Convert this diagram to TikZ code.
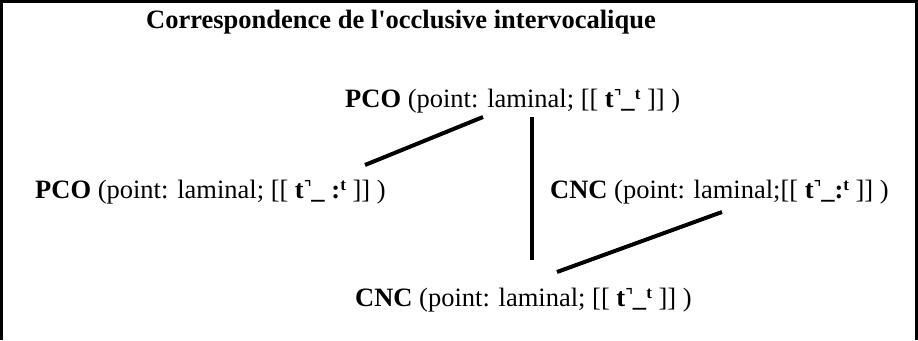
\documentclass[tikz,border=0pt]{standalone}
\usepackage{fontspec}
\setmainfont{Liberation Serif}[Ligatures=TeXOff]
\newfontfamily\ipafont{Noto Sans}
\usetikzlibrary{positioning}

% the unreleased stop, as printed
\newcommand{\tunrel}{\textbf{t}{\ipafont\bfseries\char"02FA}}
\newcommand{\supt}{\raisebox{0.6ex}{\fontsize{17}{17}\selectfont\bfseries t}}

\begin{document}
\begin{tikzpicture}[x=1pt, y=-1pt, font=\fontsize{26.5}{32}\selectfont]
    % Styles for the labels and the connecting strokes
    \tikzset{form/.style={inner sep=0pt, anchor=base west},
             link/.style={line width=4pt}}

    \useasboundingbox (0,0) rectangle (918,340);
    % Frame, open at the bottom
    \draw[line width=2.5pt] (1.5,340) -- (1.5,1.5) -- (916.5,1.5) -- (916.5,340);

    % Title
    \node[form] (title) at (146,28) {\textbf{Correspondence de l'occlusive intervocalique}};

    % The four correspondences
    \node[form] (pcoTop) at (345,107) {\textbf{PCO} (point: laminal; [[ \tunrel\textbf{\_}\supt\ ]] )};
    \node[form] (pcoLeft) at (35,198) {\textbf{PCO} (point: laminal; [[ \tunrel\textbf{\_} \textbf{:}\supt\ ]] )};
    \node[form] (cncRight) at (550,198) {\textbf{CNC} (point: laminal;[[ \tunrel\textbf{\_:}\supt\ ]] )};
    \node[form] (cncBottom) at (355,306) {\textbf{CNC} (point: laminal; [[ \tunrel\textbf{\_}\supt\ ]] )};

    % Links between them
    \draw[link] ([shift={(330,-33)}]pcoLeft.base west) -- ([shift={(138,10)}]pcoTop.base west);
    \draw[link] ([shift={(187,10)}]pcoTop.base west) -- ([shift={(177,-46)}]cncBottom.base west);
    \draw[link] ([shift={(202,-34)}]cncBottom.base west) -- ([shift={(172,14)}]cncRight.base west);
\end{tikzpicture}
\end{document}
